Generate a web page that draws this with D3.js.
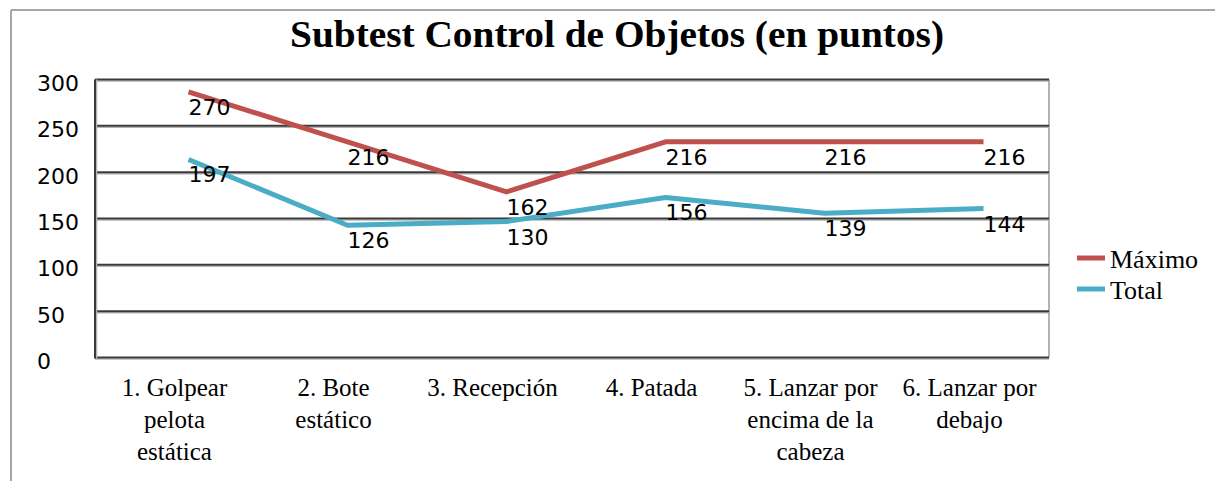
<!DOCTYPE html>
<html>
<head>
<meta charset="utf-8">
<script src="https://cdn.jsdelivr.net/npm/d3@7"></script>
<style>
  body { margin: 0; background: #fff; }
</style>
</head>
<body>
<div id="chart-area"></div>
<script>
const categories = [
    '1. Golpear pelota estática',
    '2. Bote estático',
    '3. Recepción',
    '4. Patada',
    '5. Lanzar por encima de la cabeza',
    '6. Lanzar por debajo'
];
// how the category labels wrap in the original
const categoryLines = [
    ['1. Golpear', 'pelota', 'estática'],
    ['2. Bote', 'estático'],
    ['3. Recepción'],
    ['4. Patada'],
    ['5. Lanzar por', 'encima de la', 'cabeza'],
    ['6. Lanzar por', 'debajo']
];
const maximo = [270, 216, 162, 216, 216, 216];
const total = [197, 126, 130, 156, 139, 144];
const yTicks = [0, 50, 100, 150, 200, 250, 300];
const seriesNames = ['Máximo', 'Total'];

const W = 1215, H = 481;
const plot = {left: 95, right: 1049, top: 79.5, bottom: 357.5};

const svg = d3.select('#chart-area')
    .append('svg')
    .attr('width', W)
    .attr('height', H);

// outer frame (only top and left show)
svg.append('line')
    .attr('x1', 11).attr('x2', W).attr('y1', 10).attr('y2', 10)
    .attr('stroke', '#a6a6a6').attr('stroke-width', 2);
svg.append('line')
    .attr('x1', 11).attr('x2', 11).attr('y1', 10).attr('y2', H)
    .attr('stroke', '#a6a6a6').attr('stroke-width', 2);

const xScale = d3.scaleBand()
    .domain(categories)
    .range([plot.left, plot.right]);

const yScale = d3.scaleLinear()
    .domain([0, 300])
    .range([plot.bottom, plot.top]);

const cx = d => xScale(d) + xScale.bandwidth() / 2;

// title
svg.append('text')
    .text('Subtest Control de Objetos (en puntos)')
    .attr('x', 617)
    .attr('y', 47)
    .attr('text-anchor', 'middle')
    .attr('textLength', 654)
    .attr('lengthAdjust', 'spacingAndGlyphs')
    .attr('font-family', '"Liberation Serif", serif')
    .attr('font-weight', 'bold')
    .attr('font-size', '37px')
    .attr('fill', '#000');

// right border of plot
svg.append('line')
    .attr('x1', plot.right).attr('x2', plot.right)
    .attr('y1', plot.top).attr('y2', plot.bottom)
    .attr('stroke', '#9a9a9a').attr('stroke-width', 1.5);

// gridlines with a soft shadow
const grid = svg.append('g');
grid.selectAll('line.shadow')
    .data(yTicks)
    .enter().append('line')
    .attr('class', 'shadow')
    .attr('x1', plot.left).attr('x2', plot.right)
    .attr('y1', d => yScale(d) + 1.5).attr('y2', d => yScale(d) + 1.5)
    .attr('stroke', '#b5b5b5').attr('stroke-width', 1.5);
grid.selectAll('line.main')
    .data(yTicks)
    .enter().append('line')
    .attr('class', 'main')
    .attr('x1', plot.left).attr('x2', plot.right)
    .attr('y1', d => yScale(d)).attr('y2', d => yScale(d))
    .attr('stroke', '#3a3a3a').attr('stroke-width', 2);

// left axis line
svg.append('line')
    .attr('x1', plot.left + 1.5).attr('x2', plot.left + 1.5)
    .attr('y1', plot.top).attr('y2', plot.bottom + 1)
    .attr('stroke', '#b5b5b5').attr('stroke-width', 1.5);
svg.append('line')
    .attr('x1', plot.left).attr('x2', plot.left)
    .attr('y1', plot.top).attr('y2', plot.bottom + 1)
    .attr('stroke', '#3a3a3a').attr('stroke-width', 2);

// y tick labels (left aligned, as in the original)
svg.append('g').selectAll('text')
    .data(yTicks)
    .enter().append('text')
    .text(d => d)
    .attr('x', 37)
    .attr('y', d => yScale(d) + 4)
    .attr('dominant-baseline', 'central')
    .attr('font-family', '"DejaVu Sans", sans-serif')
    .attr('font-size', '22px')
    .attr('fill', '#000');

// category labels
const catG = svg.append('g').selectAll('text')
    .data(categories)
    .enter().append('text')
    .attr('text-anchor', 'middle')
    .attr('font-family', '"Liberation Serif", serif')
    .attr('font-size', '25px')
    .attr('fill', '#000');
catG.each(function(d, i) {
    const t = d3.select(this);
    categoryLines[i].forEach((ln, j) => {
        t.append('tspan')
            .attr('x', cx(d))
            .attr('y', 396 + j * 32)
            .text(ln);
    });
});

// series lines (drawn shifted, like the original rendering)
const series = [
    {name: seriesNames[0], values: maximo, color: '#c0504d'},
    {name: seriesNames[1], values: total, color: '#4bacc6'}
];

const line = d3.line()
    .x((d, i) => cx(categories[i]) + 14)
    .y(d => yScale(d) - 15.5);

svg.append('g').selectAll('path')
    .data(series)
    .enter().append('path')
    .attr('d', d => line(d.values))
    .attr('fill', 'none')
    .attr('stroke', d => d.color)
    .attr('stroke-width', 5)
    .attr('stroke-linejoin', 'round');

// data labels
series.forEach(s => {
    svg.append('g').selectAll('text')
        .data(s.values)
        .enter().append('text')
        .text(d => d)
        .attr('x', (d, i) => cx(categories[i]) + 14)
        .attr('y', d => yScale(d))
        .attr('dominant-baseline', 'central')
        .attr('font-family', '"DejaVu Sans", sans-serif')
        .attr('font-size', '22px')
        .attr('fill', '#000');
});

// legend
const legend = svg.append('g').selectAll('g')
    .data(series)
    .enter().append('g')
    .attr('transform', (d, i) => 'translate(1077, ' + (258 + i * 31) + ')');
legend.append('line')
    .attr('x1', 0).attr('x2', 28)
    .attr('stroke', d => d.color)
    .attr('stroke-width', 5);
legend.append('text')
    .text(d => d.name)
    .attr('x', 33)
    .attr('y', 1)
    .attr('dominant-baseline', 'central')
    .attr('font-family', '"Liberation Serif", serif')
    .attr('font-size', '26px')
    .attr('fill', '#000');
</script>
</body>
</html>
